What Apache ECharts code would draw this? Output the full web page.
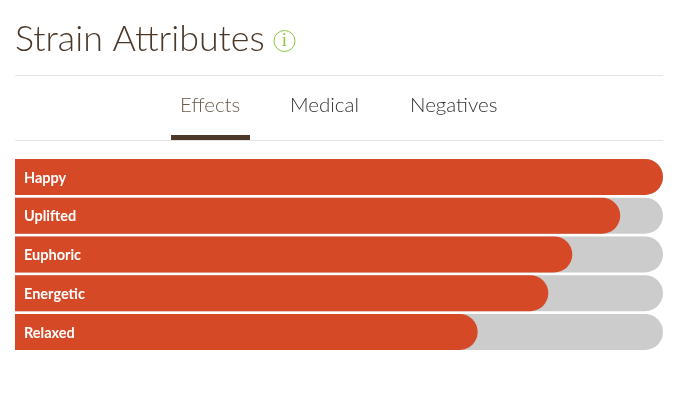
<!DOCTYPE html>
<html>
<head>
<meta charset="utf-8">
<style>
  html, body { margin: 0; padding: 0; background: #fff; }
  #chart { width: 687px; height: 395px; }
</style>
<script src="https://cdn.jsdelivr.net/npm/echarts@6/dist/echarts.min.js"></script>
</head>
<body>
<div id="chart"></div>
<script>
var categories = ['Happy', 'Uplifted', 'Euphoric', 'Energetic', 'Relaxed'];
var values = [100, 93.4, 86, 82.3, 71.4];
var tabs = ['Effects', 'Medical', 'Negatives'];
var tabX = [180, 290, 410];

var brown = '#4b3829';
var font = 'Lato';

var chart = echarts.init(document.getElementById('chart'), null, { renderer: 'canvas' });

var tabText = [];
for (var i = 0; i < tabs.length; i++) {
  tabText.push({
    type: 'text',
    left: tabX[i],
    top: 95,
    style: {
      text: tabs[i],
      font: '300 20.5px ' + font,
      fill: i == 0 ? '#6b5a4c' : '#333333'
    }
  });
}

chart.setOption({
  animation: false,
  backgroundColor: '#ffffff',
  title: {
    text: 'Strain Attributes',
    left: 15,
    top: 21,
    padding: 0,
    textStyle: { fontFamily: font, fontWeight: 300, fontSize: 35.8, color: brown }
  },
  grid: { left: 15, right: 24, top: 157.6, height: 193.75 },
  xAxis: { type: 'value', min: 0, max: 100, show: false },
  yAxis: { type: 'category', data: categories, inverse: true, show: false },
  series: [{
    type: 'bar',
    data: values,
    barWidth: 36,
    itemStyle: { color: '#d54927', borderRadius: [0, 18, 18, 0] },
    showBackground: true,
    backgroundStyle: { color: '#cccccc', borderRadius: [0, 18, 18, 0] },
    label: {
      show: true,
      position: 'insideLeft',
      distance: 9,
      offset: [0, 1],
      formatter: '{b}',
      color: '#ffffff',
      fontFamily: font,
      fontWeight: 700,
      fontSize: 14.5
    }
  }],
  graphic: [
    { type: 'line', shape: { x1: 15, y1: 75.5, x2: 663, y2: 75.5 }, style: { stroke: '#e5e5e5', lineWidth: 1 } },
    { type: 'line', shape: { x1: 15, y1: 140.5, x2: 663, y2: 140.5 }, style: { stroke: '#e5e5e5', lineWidth: 1 } },
    { type: 'rect', shape: { x: 171, y: 135, width: 79, height: 5 }, style: { fill: brown } },
    { type: 'circle', shape: { cx: 284.5, cy: 41, r: 10.5 }, style: { fill: 'none', stroke: '#8cc63f', lineWidth: 1 } },
    { type: 'text', x: 284.5, y: 41, style: { text: 'i', font: '400 19px "Liberation Serif"', fill: '#8cc63f', align: 'center', verticalAlign: 'middle' } }
  ].concat(tabText)
});
</script>
</body>
</html>
